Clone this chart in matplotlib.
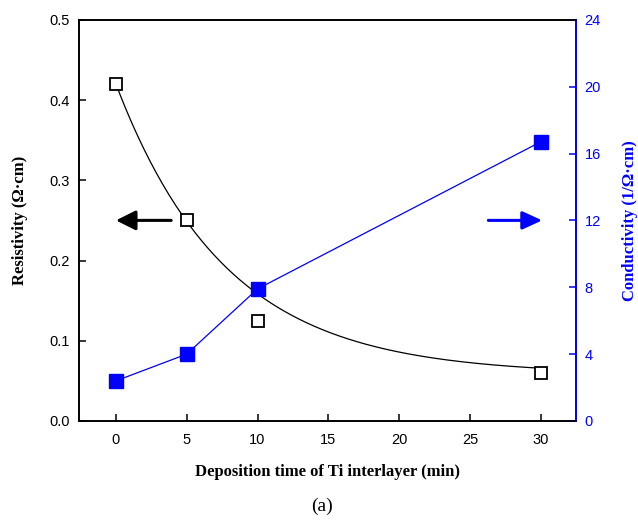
import matplotlib
matplotlib.use("Agg")
import matplotlib.pyplot as plt
import numpy as np

# data
time_min = [0, 5, 10, 30]
resistivity = [0.42, 0.25, 0.125, 0.06]
conductivity = [2.4, 4.0, 7.9, 16.7]

# exponential decay fit drawn through the resistivity points: a*exp(-x/tau)+c
fit_a, fit_tau, fit_c = 0.362, 7.8, 0.058

x_ticks = [0, 5, 10, 15, 20, 25, 30]
left_ticks = [0.0, 0.1, 0.2, 0.3, 0.4, 0.5]
right_ticks = [0, 4, 8, 12, 16, 20, 24]

blue = "#0000ff"
tick_font = "Liberation Sans"
label_font = "Liberation Serif"

fig = plt.figure(figsize=(6.38, 5.21), dpi=100)
ax = fig.add_axes([0.124, 0.192, 0.779, 0.770])
ax2 = ax.twinx()

xf = np.linspace(0, 30, 200)
ax.plot(xf, fit_a * np.exp(-xf / fit_tau) + fit_c, color="black", linewidth=0.9, zorder=2)
ax.plot(time_min, resistivity, linestyle="none", marker="s", markersize=8.5,
        markerfacecolor="white", markeredgecolor="black", markeredgewidth=1.3, zorder=3)

ax2.plot(time_min, conductivity, color=blue, linewidth=0.9, marker="s", markersize=10,
         markerfacecolor=blue, markeredgecolor=blue)

ax.set_xlim(-2.6, 32.5)
ax.set_ylim(0, 0.5)
ax2.set_ylim(0, 24)
ax.set_xticks(x_ticks)
ax.set_yticks(left_ticks)
ax.set_yticklabels(["%.1f" % v for v in left_ticks])
ax2.set_yticks(right_ticks)

for a in (ax, ax2):
    for s in a.spines.values():
        s.set_linewidth(1.2)
ax2.spines["right"].set_color(blue)
ax.tick_params(axis="x", direction="in", length=5, width=1.1, labelsize=10.5, pad=9)
ax.tick_params(axis="y", direction="in", length=5, width=1.1, labelsize=10.5, pad=7)
ax2.tick_params(axis="y", direction="in", length=5, width=1.1, labelsize=10.5,
                colors=blue, pad=6)
for lab in ax.get_xticklabels() + ax.get_yticklabels() + ax2.get_yticklabels():
    lab.set_family(tick_font)

ax.set_xlabel("Deposition time of Ti interlayer (min)", family=label_font,
              fontweight="bold", fontsize=12, labelpad=12)
ax.set_ylabel("Resistivity (Ω·cm)", family=label_font, fontweight="bold",
              fontsize=12, labelpad=15)
ax2.set_ylabel("Conductivity (1/Ω·cm)", family=label_font, fontweight="bold",
               fontsize=12, color=blue, labelpad=15)

# direction arrows
ax.annotate("", xy=(0.0, 0.25), xytext=(3.9, 0.25),
            arrowprops=dict(arrowstyle="-|>,head_length=1.2,head_width=0.6",
                            color="black", lw=2.2, shrinkA=0, shrinkB=0))
ax2.annotate("", xy=(30.1, 12), xytext=(26.3, 12),
             arrowprops=dict(arrowstyle="-|>,head_length=1.2,head_width=0.55",
                             color=blue, lw=2.2, shrinkA=0, shrinkB=0))

fig.text(0.505, 0.02, "(a)", family=label_font, fontsize=14, ha="center")

fig.savefig("out.png", dpi=100)
